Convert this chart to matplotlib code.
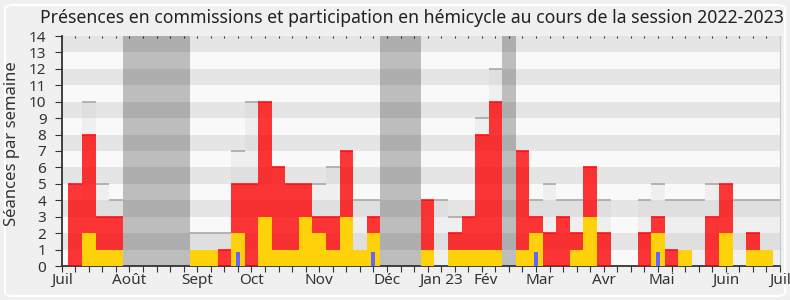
import matplotlib
matplotlib.use("Agg")
import matplotlib.pyplot as plt
from matplotlib.patches import FancyBboxPatch
import numpy as np

# ─────────────────────────────────────────────
# DONNEES (une valeur par semaine, semaines 1 a 53)
# ─────────────────────────────────────────────
semaines = list(range(1, 54))

# presences en commission (rouge)
commission = [5, 8, 3, 3, 0, 0, 0, 0, 0, 0,
              0, 1, 5, 5, 10, 6, 5, 5, 3, 3,
              7, 0, 3, 0, 0, 0, 4, 0, 2, 3,
              8, 10, 0, 7, 3, 2, 3, 2, 6, 2,
              0, 0, 2, 3, 1, 0, 0, 3, 5, 0,
              2, 0, 0]

# participation en hemicycle (jaune)
hemicycle = [0, 2, 1, 1, 0, 0, 0, 0, 0, 1,
             1, 0, 2, 0, 3, 1, 1, 3, 2, 1,
             3, 1, 2, 0, 0, 0, 1, 0, 1, 1,
             1, 1, 0, 1, 2, 0, 0, 1, 3, 0,
             0, 0, 0, 2, 0, 1, 0, 0, 2, 0,
             1, 1, 0]

# mediane des deputes (gris clair)
mediane = [4, 10, 5, 4, 0, 0, 0, 0, 0, 2,
           2, 2, 7, 10, 8, 5, 5, 5, 5, 6,
           6, 4, 4, 0, 0, 0, 3, 4, 3, 3,
           9, 12, 0, 6, 4, 5, 4, 4, 5, 4,
           0, 0, 4, 5, 4, 4, 4, 5, 4, 4,
           4, 4, 4]

# questions orales (bleu)
semaines_questions = [13, 23, 35, 44]
questions = [0.87, 0.87, 0.87, 0.87]

# vacances parlementaires
vacances = [5, 6, 7, 8, 9, 24, 25, 26, 33]

# axe des mois
mois_pos = [0, 5, 10, 14, 19, 24, 28, 31.3, 35.3, 40, 44.3, 49, 53]
mois_labels = ["Juil", "Août", "Sept", "Oct", "Nov", "Déc", "Jan 23",
               "Fév", "Mar", "Avr", "Mai", "Juin", "Juil"]

YMAX = 14

plt.rcParams['font.family'] = ['Noto Sans', 'DejaVu Sans']

fig = plt.figure(figsize=(7.9, 3.0), dpi=100, facecolor="#f0f0f0")
ax = fig.add_axes([61.7 / 790, 34 / 300, (780 - 61.7) / 790, 230 / 300])
ax.set_facecolor("#f9f9f9")

# bandes horizontales
for i in range(YMAX):
    ax.axhspan(i, i + 1, color="#e5e5e5" if i % 2 else "#f9f9f9", lw=0, zorder=0)

x = np.array(semaines)
med = np.array(mediane)
com = np.array(commission)
hem = np.array(hemicycle)

# vacances
ax.bar(vacances, [YMAX] * len(vacances), width=1, color="black", alpha=0.24,
       lw=0, zorder=1)

# mediane (trait du haut seulement quand il depasse)
ax.bar(x, med, width=1, color="#c8c8c8", alpha=0.2, lw=0, zorder=2)
m = med > np.maximum(com, hem)
ax.hlines(med[m], x[m] - 0.5, x[m] + 0.5, color="#a8a8a8", lw=1.2, zorder=2)

# commission
ax.bar(x, com, width=1, color="#ff0000", alpha=0.78, lw=0, zorder=3)
m = com > hem
ax.hlines(com[m], x[m] - 0.5, x[m] + 0.5, color="#ff1010", lw=1.2, zorder=3)

# hemicycle
ax.bar(x, hem, width=1, color="#fed20b", lw=0, zorder=4)

# questions
ax.bar(semaines_questions, questions, width=0.3, color="#6464ff", lw=0, zorder=5)

ax.set_xlim(0, 53)
ax.set_ylim(0, YMAX)

# axes
ax.spines["top"].set_visible(False)
ax.spines["right"].set_color("#c8c8c8")
ax.spines["left"].set_color("#333333")
ax.spines["bottom"].set_color("#333333")
ax.spines["left"].set_linewidth(1.3)
ax.spines["bottom"].set_linewidth(1.3)

ax.set_yticks(range(0, YMAX + 1))
ax.tick_params(axis="y", length=5, color="#333333", labelsize=11,
               labelcolor="#333333", pad=6)
ax.xaxis.remove_overlapping_locs = False
ax.set_xticks(range(0, 54))
ax.set_xticklabels([])
ax.tick_params(axis="x", which="major", length=4, color="#333333")
ax.set_xticks(mois_pos, minor=True)
ax.set_xticklabels(mois_labels, minor=True)
ax.tick_params(axis="x", which="minor", length=0, labelsize=11,
               labelcolor="#333333", pad=5)

sec = ax.secondary_xaxis("top")
sec.set_xticks(range(0, 54))
sec.tick_params(length=1.5, direction="in", color="#333333", labeltop=False)
sec.spines["top"].set_visible(False)

ax.set_ylabel("Séances par semaine", fontsize=12, color="#333333")
ax.yaxis.set_label_coords(-0.058, 0.53)
fig.text(0.522, 0.94, "Présences en commissions et participation en hémicycle au cours de la session 2022-2023",
         ha="center", va="center", fontsize=12.7, color="#222222")

fig.patches.append(FancyBboxPatch((5 / 790, 4 / 300), 780 / 790, 291 / 300,
                                  boxstyle="round,pad=0,rounding_size=0.012",
                                  transform=fig.transFigure, facecolor="none",
                                  edgecolor="white", lw=1.5, zorder=-1))

fig.savefig("out.png", dpi=100, facecolor=fig.get_facecolor())
